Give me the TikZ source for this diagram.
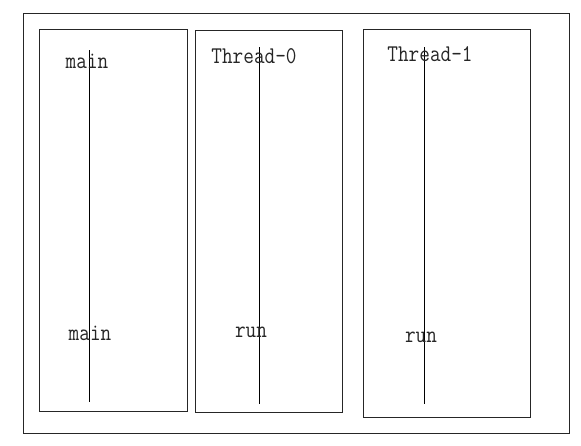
\documentclass[tikz,border=0pt]{standalone}
\usepackage{fontspec}
\newfontfamily\lblfont{Latin Modern Mono}[FakeStretch=0.86]
\begin{document}
\begin{tikzpicture}[x=1pt,y=-1pt,
  frame/.style={draw=black!85,line width=0.9pt},
  lane/.style={draw=black!85,line width=0.9pt,inner sep=0pt,anchor=north west},
  life/.style={draw=black,line width=0.9pt},
  lbl/.style={font=\fontsize{24}{26}\selectfont\lblfont,text=black!85,inner sep=0pt}]
\useasboundingbox (0,0) rectangle (581,445);
\draw[frame] (23,13) rectangle (569,433);
% lanes
\node[lane,minimum width=148pt,minimum height=382pt] (b1) at (39,29) {};
\node[lane,minimum width=147pt,minimum height=382pt] (b2) at (195,30) {};
\node[lane,minimum width=167pt,minimum height=388pt] (b3) at (363,29) {};
% lifelines
\coordinate (l1t) at (89,50);  \coordinate (l1b) at (89,402);
\coordinate (l2t) at (259,47); \coordinate (l2b) at (259,404);
\coordinate (l3t) at (424,47); \coordinate (l3b) at (424,404);
\draw[life] (l1t) -- (l1b);
\draw[life] (l2t) -- (l2b);
\draw[life] (l3t) -- (l3b);
% labels
\node[lbl] (t1) at (87,61) {main};
\node[lbl] (t2) at (254,56) {Thread-0};
\node[lbl] (t3) at (430,54) {Thread-1};
\node[lbl] (m1) at (90,333) {main};
\node[lbl] (r2) at (251,332) {run};
\node[lbl] (r3) at (421,337) {run};
\end{tikzpicture}
\end{document}
